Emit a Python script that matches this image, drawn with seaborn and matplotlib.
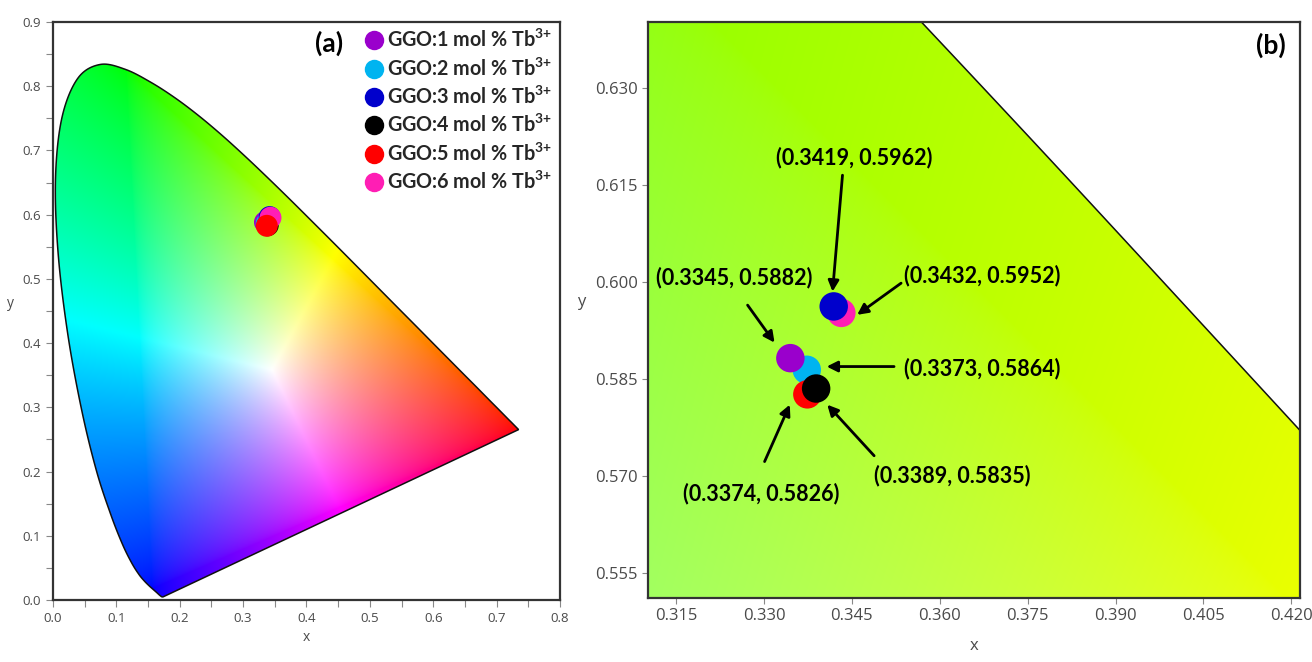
import numpy as np
import pandas as pd
import matplotlib
matplotlib.use("Agg")
import matplotlib.pyplot as plt
import seaborn as sns
from matplotlib.patches import Polygon
from matplotlib.lines import Line2D

# ---------------- data ----------------
samples = ["GGO:1 mol % Tb$^{3{+}}$", "GGO:2 mol % Tb$^{3{+}}$", "GGO:3 mol % Tb$^{3{+}}$",
           "GGO:4 mol % Tb$^{3{+}}$", "GGO:5 mol % Tb$^{3{+}}$", "GGO:6 mol % Tb$^{3{+}}$"]
cie_x = [0.3345, 0.3373, 0.3419, 0.3389, 0.3374, 0.3432]
cie_y = [0.5882, 0.5864, 0.5962, 0.5835, 0.5826, 0.5952]
point_colors = ["#9A00CC", "#00B4F0", "#0000CC", "#000000", "#FF0000", "#FF1EB4"]
coord_labels = ["(0.3345, 0.5882)", "(0.3373, 0.5864)", "(0.3419, 0.5962)",
                "(0.3389, 0.5835)", "(0.3374, 0.5826)", "(0.3432, 0.5952)"]

# CIE 1931 2-degree spectral locus (380-700 nm, 5 nm steps)
locus_x = [0.1741, 0.1740, 0.1738, 0.1736, 0.1733, 0.1730, 0.1726, 0.1721, 0.1714, 0.1703,
           0.1689, 0.1669, 0.1644, 0.1611, 0.1566, 0.1510, 0.1440, 0.1355, 0.1241, 0.1096,
           0.0913, 0.0687, 0.0454, 0.0235, 0.0082, 0.0039, 0.0139, 0.0389, 0.0743, 0.1142,
           0.1547, 0.1929, 0.2296, 0.2658, 0.3016, 0.3373, 0.3731, 0.4087, 0.4441, 0.4788,
           0.5125, 0.5448, 0.5752, 0.6029, 0.6270, 0.6482, 0.6658, 0.6801, 0.6915, 0.7006,
           0.7079, 0.7140, 0.7190, 0.7230, 0.7260, 0.7283, 0.7300, 0.7311, 0.7320, 0.7327,
           0.7334, 0.7340, 0.7344, 0.7346, 0.7347]
locus_y = [0.0050, 0.0050, 0.0049, 0.0049, 0.0048, 0.0048, 0.0048, 0.0048, 0.0051, 0.0058,
           0.0069, 0.0086, 0.0109, 0.0138, 0.0177, 0.0227, 0.0297, 0.0399, 0.0578, 0.0868,
           0.1327, 0.2007, 0.2950, 0.4127, 0.5384, 0.6548, 0.7502, 0.8120, 0.8338, 0.8262,
           0.8059, 0.7816, 0.7543, 0.7243, 0.6923, 0.6589, 0.6245, 0.5896, 0.5547, 0.5202,
           0.4866, 0.4544, 0.4242, 0.3965, 0.3725, 0.3514, 0.3340, 0.3197, 0.3083, 0.2993,
           0.2920, 0.2859, 0.2809, 0.2770, 0.2740, 0.2717, 0.2700, 0.2689, 0.2680, 0.2673,
           0.2666, 0.2660, 0.2656, 0.2654, 0.2653]

df = pd.DataFrame({"sample": samples, "x": cie_x, "y": cie_y})

# ---------------- helpers ----------------
# Wide-gamut RGB -> XYZ matrix (used only to colour the background)
M_WG = np.array([[0.7161, 0.1010, 0.1471],
                 [0.2587, 0.7247, 0.0166],
                 [0.0000, 0.0512, 0.7737]])
M_INV = np.linalg.inv(M_WG)


def chroma_image(x0, x1, y0, y1, nx, ny):
    xs = np.linspace(x0, x1, nx)
    ys = np.linspace(y0, y1, ny)
    xx, yy = np.meshgrid(xs, ys)
    yy_s = np.maximum(yy, 1e-4)
    X = xx / yy_s
    Y = np.ones_like(xx)
    Z = (1 - xx - yy) / yy_s
    rgb = np.tensordot(np.stack([X, Y, Z], -1), M_INV.T, axes=1)
    rgb = np.clip(rgb, 0, None)
    rgb = rgb / np.maximum(rgb.max(axis=-1, keepdims=True), 1e-9)
    rgb = np.power(rgb, 1 / 1.6)
    return np.clip(rgb, 0, 1)


def smooth_closed_path(px, py, steps=12):
    # Catmull-Rom rendering of the locus outline (drawing only)
    p = np.column_stack([px, py])
    n = len(p)
    out = []
    for i in range(n - 1):
        p0 = p[max(i - 1, 0)]
        p1 = p[i]
        p2 = p[i + 1]
        p3 = p[min(i + 2, n - 1)]
        for t in np.linspace(0, 1, steps, endpoint=False):
            t2, t3 = t * t, t * t * t
            out.append(0.5 * ((2 * p1) + (-p0 + p2) * t + (2 * p0 - 5 * p1 + 4 * p2 - p3) * t2
                              + (-p0 + 3 * p1 - 3 * p2 + p3) * t3))
    out.append(p[-1])
    out.append(p[0])
    return np.array(out)


def draw_locus(ax, extent, n):
    img = chroma_image(extent[0], extent[1], extent[2], extent[3], n, n)
    im = ax.imshow(img, extent=extent, origin="lower", aspect="auto",
                   interpolation="bilinear", zorder=0)
    pts = smooth_closed_path(locus_x, locus_y)
    clip = Polygon(pts, closed=True, transform=ax.transData, facecolor="none", edgecolor="none")
    ax.add_patch(clip)
    im.set_clip_path(clip)
    edge = Polygon(pts, closed=True, facecolor="none", edgecolor="#111111", lw=1.1, zorder=1)
    ax.add_patch(edge)


# ---------------- figure ----------------
sns.set_theme(style="white")
plt.rcParams["font.family"] = ["Open Sans", "DejaVu Sans"]
plt.rcParams["mathtext.fontset"] = "custom"
plt.rcParams["mathtext.rm"] = "Lato:bold"
plt.rcParams["mathtext.it"] = "Lato:bold"
plt.rcParams["mathtext.bf"] = "Lato:bold"

fig = plt.figure(figsize=(13.12, 6.62), dpi=100)
ax1 = fig.add_axes([0.0404, 0.0937, 0.3864, 0.8731])
ax2 = fig.add_axes([0.4939, 0.0967, 0.4970, 0.8701])

tick_color = "#4a4a4a"
frame_color = "#333333"

# ----- panel (a) -----
draw_locus(ax1, (0.0, 0.8, 0.0, 0.9), 700)
order_a = [0, 1, 2, 3, 5, 4]
sns.scatterplot(data=df.iloc[order_a], x="x", y="y", hue="sample", hue_order=samples,
                palette=point_colors, s=250, edgecolor="none", linewidth=0,
                legend=False, ax=ax1, zorder=3)
ax1.set_xlim(0, 0.8)
ax1.set_ylim(0, 0.9)
ax1.set_xticks(np.arange(0, 0.81, 0.1))
ax1.set_yticks(np.arange(0, 0.91, 0.1))
ax1.set_xticks(np.arange(0.05, 0.8, 0.1), minor=True)
ax1.set_yticks(np.arange(0.05, 0.9, 0.1), minor=True)
ax1.set_xticklabels([f"{v:.1f}" for v in np.arange(0, 0.81, 0.1)])
ax1.set_yticklabels([f"{v:.1f}" for v in np.arange(0, 0.91, 0.1)])
ax1.tick_params(which="both", direction="out", length=5, width=0.8, color="#888888",
                labelsize=9.5, labelcolor=tick_color, bottom=True, left=True)
ax1.set_xlabel("x", fontsize=10, color=tick_color, labelpad=4)
ax1.set_ylabel("y", fontsize=10, color=tick_color, labelpad=9, rotation=0)

handles = [Line2D([], [], marker="o", ls="none", markerfacecolor=c, markeredgecolor="none",
                  markersize=14) for c in point_colors]
ax1.legend(handles, samples, loc="upper right", bbox_to_anchor=(1.008, 1.008), frameon=False,
           prop={"family": "Lato", "weight": "bold", "size": 14.2},
           handletextpad=0.0, labelspacing=0.31, handlelength=1.3, borderaxespad=0.2)
ax1.text(0.545, 0.963, "(a)", transform=ax1.transAxes, ha="center", va="center",
         fontsize=19, fontweight="bold", family="Lato", color="black")

# ----- panel (b) -----
xlim_b = (0.3102, 0.4215)
ylim_b = (0.5511, 0.6402)
draw_locus(ax2, (xlim_b[0], xlim_b[1], ylim_b[0], ylim_b[1]), 400)
order_b = [5, 1, 0, 4, 3, 2]
sns.scatterplot(data=df.iloc[order_b], x="x", y="y", hue="sample", hue_order=samples,
                palette=point_colors, s=420, edgecolor="none", linewidth=0,
                legend=False, ax=ax2, zorder=3)
ax2.set_xlim(*xlim_b)
ax2.set_ylim(*ylim_b)
xt = np.arange(0.315, 0.4201, 0.015)
yt = np.arange(0.555, 0.6301, 0.015)
ax2.set_xticks(xt)
ax2.set_yticks(yt)
ax2.set_xticklabels([f"{v:.3f}" for v in xt])
ax2.set_yticklabels([f"{v:.3f}" for v in yt])
ax2.tick_params(direction="out", length=4, width=0.8, color="#888888",
                labelsize=12, labelcolor=tick_color, bottom=True, left=True)
ax2.set_xlabel("x", fontsize=12, color=tick_color, labelpad=10)
ax2.set_ylabel("y", fontsize=12, color=tick_color, labelpad=10, rotation=0)
ax2.text(0.955, 0.96, "(b)", transform=ax2.transAxes, ha="center", va="center",
         fontsize=19, fontweight="bold", family="Lato", color="black")

# annotation layout: (text x, text y, arrow tail x, tail y, arrow head x, head y)
ann_layout = [
    (0.3249, 0.6006, 0.3272, 0.5964, 0.3318, 0.5906),
    (0.3672, 0.5866, 0.3522, 0.5869, 0.3407, 0.5869),
    (0.3454, 0.6192, 0.3434, 0.6165, 0.3417, 0.5985),
    (0.3621, 0.5701, 0.3488, 0.5731, 0.3408, 0.5810),
    (0.3296, 0.5673, 0.3301, 0.5722, 0.3344, 0.5810),
    (0.3672, 0.6010, 0.3534, 0.5998, 0.3459, 0.5949),
]
for lab, (tx, ty, ax_, ay_, hx, hy) in zip(coord_labels, ann_layout):
    ax2.text(tx, ty, lab, ha="center", va="center", fontsize=15.5, fontweight="bold",
             family="Lato", color="black", zorder=5)
    ax2.annotate("", xy=(hx, hy), xytext=(ax_, ay_),
                 arrowprops=dict(arrowstyle="-|>", color="black", lw=2, mutation_scale=16,
                                 shrinkA=0, shrinkB=0), zorder=5)

for ax in (ax1, ax2):
    for s in ax.spines.values():
        s.set_visible(True)
        s.set_color(frame_color)
        s.set_linewidth(1.6)
    ax.set_facecolor("white")

fig.savefig("out.png", dpi=100, facecolor="white")
